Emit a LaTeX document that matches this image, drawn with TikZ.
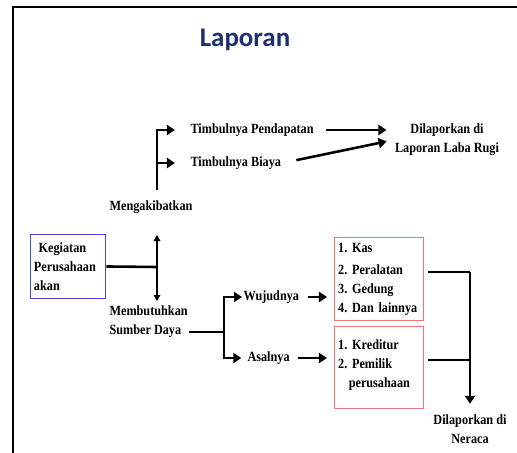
\documentclass[tikz,border=0pt]{standalone}
\usepackage{fontspec}
\setmainfont[FakeStretch=0.87]{Liberation Serif}
\newfontfamily\titlefont{Carlito}
\usetikzlibrary{positioning,arrows.meta}
\definecolor{titleblue}{RGB}{31,47,107}
\definecolor{boxred}{RGB}{238,120,120}
\definecolor{boxblue}{RGB}{70,70,235}
\frenchspacing

\begin{document}
\begin{tikzpicture}[x=0.03cm, y=-0.03cm, semithick]
\tikzset{
    ptext/.style= {font=\bfseries\fontsize{12}{16}\selectfont, inner sep=1pt},
    pbox/.style= {ptext, draw=boxred, line width=1.2pt, align=left, anchor=north west, inner xsep=3pt},
    pline/.style= {line width=2.2pt},
    parrow/.style= {line width=2.2pt, -{Triangle[length=2.4mm,width=3mm]}},
    pboth/.style= {line width=1pt, {Triangle[length=1.8mm,width=2mm]}-{Triangle[length=1.8mm,width=2mm]}},
}
\useasboundingbox (0,0) rectangle (517,452);
\draw[line width=1.6pt] (13,470) -- (13,7) -- (530,7);

\node[font=\titlefont\bfseries\fontsize{23}{26}\selectfont, color=titleblue] (title) at (245,40) {Laporan};

\node[ptext, anchor=west] (pend) at (189,130) {Timbulnya Pendapatan};
\node[ptext, anchor=west] (biaya) at (189,163) {Timbulnya Biaya};
\node[ptext, align=center] (rugi) at (447,140) {Dilaporkan di\\Laporan Laba Rugi};
\node[ptext] (akibat) at (151,207) {Mengakibatkan};
\node[ptext, draw=boxblue, thick, align=left, anchor=north west, text width=2.05cm,
      minimum height=1.92cm, inner xsep=3pt] (giat) at (30,234) {\ Kegiatan\\Perusahaan\\akan};
\node[ptext, align=left, anchor=west] (butuh) at (108,322) {Membutuhkan\\Sumber Daya};
\node[ptext, anchor=west] (wujud) at (242,297) {Wujudnya};
\node[ptext, anchor=west] (asal) at (246,358) {Asalnya};
\node[pbox, text width=2.45cm, minimum height=2.49cm] (kas) at (334,237)
    {1. Kas\\[3pt]2. Peralatan\\3. Gedung\\4. Dan lainnya};
\node[pbox, text width=2.45cm, minimum height=2.46cm] (kredit) at (334,326)
    {1. Kreditur\\2. Pemilik\\\hspace*{9pt}perusahaan\\[-9pt]\mbox{}};
\node[ptext, align=center] (neraca) at (470,429) {Dilaporkan di\\Neraca};

\coordinate (fork1) at (157,190);
\coordinate (split) at (157,267);
\coordinate (up1) at (157,235);
\coordinate (dn1) at (157,301);
\coordinate (fork2) at (224,332);
\coordinate (fork3) at (470,272);
\coordinate (join3) at (470,360);

\draw[parrow, shorten >=12pt] (fork1) |- (pend.west);
\draw[parrow, shorten >=12pt] (fork1 |- biaya) -- (biaya.west);
\draw[parrow, shorten <=9pt, shorten >=6pt] (pend.east) -- (rugi.west |- pend.east);
\draw[parrow, shorten <=12pt, shorten >=6pt] (biaya.east) -- (rugi.west);

\draw[pline] (giat.east) -- (split);
\draw[pboth] (up1) -- (dn1);

\draw[pline] (butuh.east |- fork2) -- (fork2);
\draw[parrow] (fork2) |- (wujud.west);
\draw[parrow, shorten >=4pt] (fork2) |- (asal.west);
\draw[parrow, shorten <=6pt, shorten >=6pt] (wujud.east) -- (kas.west |- wujud.east);
\draw[parrow, shorten <=6pt, shorten >=6pt] (asal.east) -- (kredit.west |- asal.east);

\draw[pline, shorten <=3pt] (kas.east |- fork3) -- (fork3);
\draw[pline, shorten <=3pt] (kredit.east |- join3) -- (join3);
\draw[parrow, shorten >=8pt] (fork3) -- (neraca.north);
\end{tikzpicture}
\end{document}
